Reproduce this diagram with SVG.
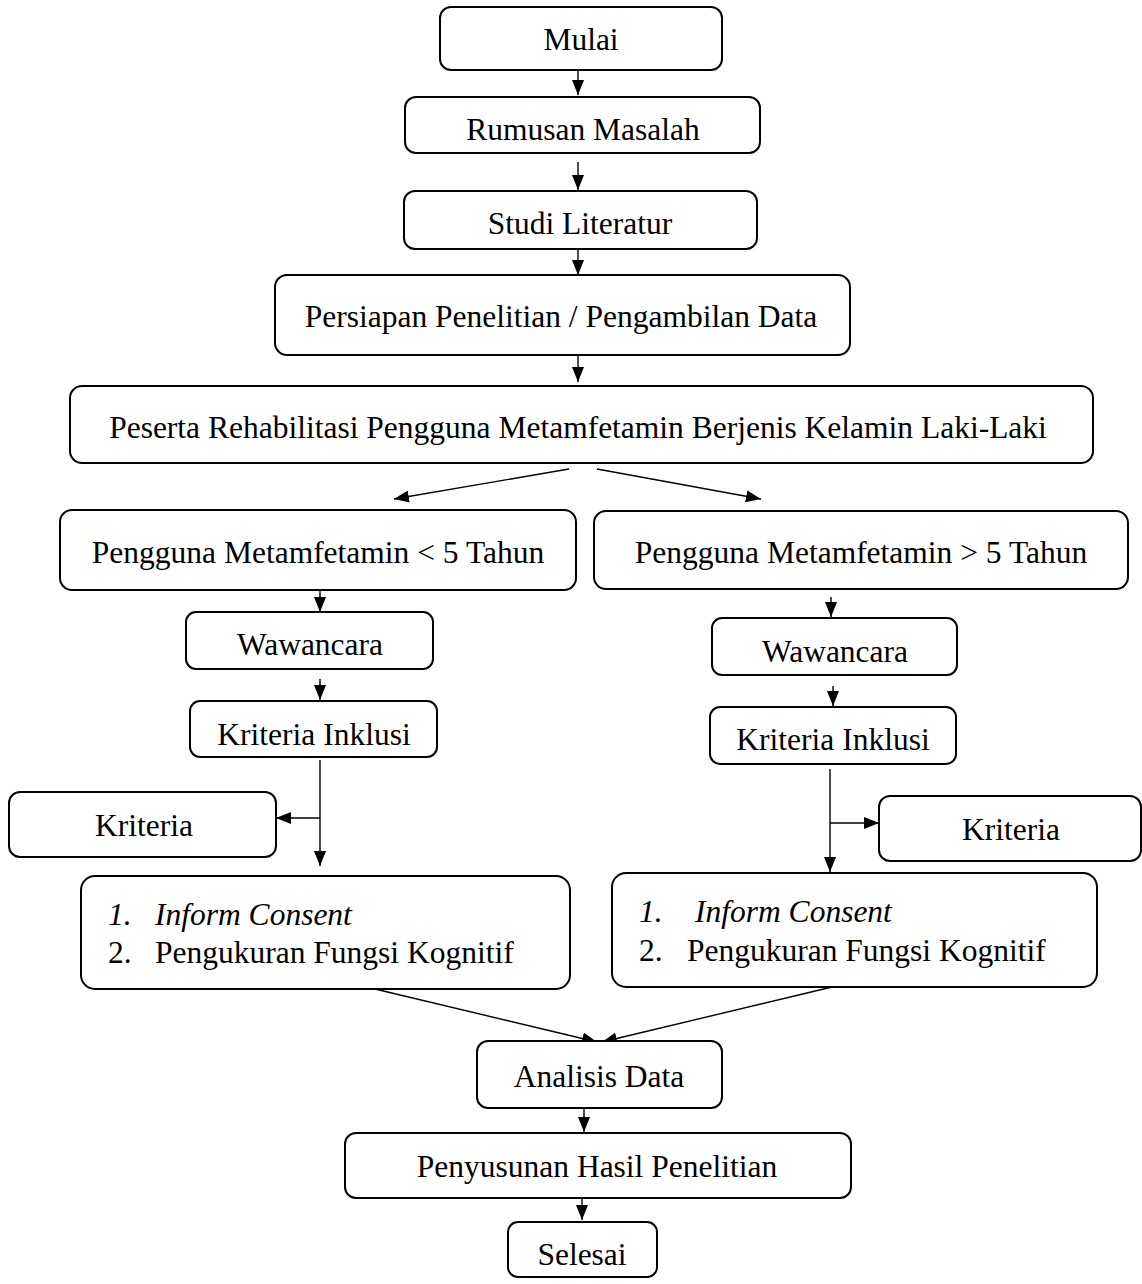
<svg xmlns="http://www.w3.org/2000/svg" width="1142" height="1284" viewBox="0 0 1142 1284">
<style>
.box{fill:#fff;stroke:#000;stroke-width:2}
.t{font-family:"Liberation Serif","Times New Roman",serif;font-size:31.5px;fill:#000;text-anchor:middle}
.l{font-family:"Liberation Serif","Times New Roman",serif;font-size:31.5px;fill:#000}
.i{font-style:italic}
.c{fill:none;stroke:#000;stroke-width:1.4}
</style>
<defs>
<marker id="ah" viewBox="0 0 15 12" markerWidth="15" markerHeight="12" refX="15" refY="6" orient="auto" markerUnits="userSpaceOnUse">
<path d="M0,0 L15,6 L0,12 z" fill="#000"/>
</marker>
</defs>
<rect width="1142" height="1284" fill="#fff"/>
<g id="connectors">
<line class="c" x1="578" y1="70" x2="578" y2="95" marker-end="url(#ah)"/>
<line class="c" x1="578" y1="162" x2="578" y2="190" marker-end="url(#ah)"/>
<line class="c" x1="578" y1="250" x2="578" y2="275" marker-end="url(#ah)"/>
<line class="c" x1="578" y1="356" x2="578" y2="382" marker-end="url(#ah)"/>
<line class="c" x1="569" y1="469" x2="394" y2="499" marker-end="url(#ah)"/>
<line class="c" x1="597" y1="469" x2="761" y2="499" marker-end="url(#ah)"/>
<line class="c" x1="320" y1="590" x2="320" y2="612" marker-end="url(#ah)"/>
<line class="c" x1="320" y1="679" x2="320" y2="700" marker-end="url(#ah)"/>
<line class="c" x1="320" y1="760" x2="320" y2="866" marker-end="url(#ah)"/>
<line class="c" x1="320" y1="818" x2="276" y2="818" marker-end="url(#ah)"/>
<line class="c" x1="831" y1="597" x2="831" y2="617" marker-end="url(#ah)"/>
<line class="c" x1="833" y1="686" x2="833" y2="706" marker-end="url(#ah)"/>
<line class="c" x1="830" y1="769" x2="830" y2="872" marker-end="url(#ah)"/>
<line class="c" x1="830" y1="823" x2="879" y2="823" marker-end="url(#ah)"/>
<line class="c" x1="375" y1="989" x2="597" y2="1042" marker-end="url(#ah)"/>
<line class="c" x1="832" y1="987" x2="602" y2="1042" marker-end="url(#ah)"/>
<line class="c" x1="584" y1="1104" x2="584" y2="1132" marker-end="url(#ah)"/>
<line class="c" x1="582" y1="1198" x2="582" y2="1220" marker-end="url(#ah)"/>
</g>
<g id="mulai"><rect class="box" x="440" y="7" width="282" height="63" rx="11"/><text class="t" x="581" y="50">Mulai</text></g>
<g id="rumusan"><rect class="box" x="405" y="97" width="355" height="56" rx="11"/><text class="t" x="583" y="140">Rumusan Masalah</text></g>
<g id="studi"><rect class="box" x="404" y="191" width="353" height="58" rx="11"/><text class="t" x="580" y="234">Studi Literatur</text></g>
<g id="persiapan"><rect class="box" x="275" y="275" width="575" height="80" rx="12"/><text class="t" x="561" y="327">Persiapan Penelitian / Pengambilan Data</text></g>
<g id="peserta"><rect class="box" x="70" y="386" width="1023" height="77" rx="12"/><text class="t" x="578" y="438">Peserta Rehabilitasi Pengguna Metamfetamin Berjenis Kelamin Laki-Laki</text></g>
<g id="pengguna-kurang"><rect class="box" x="60" y="510" width="516" height="80" rx="12"/><text class="t" x="318" y="563">Pengguna Metamfetamin &lt; 5 Tahun</text></g>
<g id="pengguna-lebih"><rect class="box" x="594" y="511" width="534" height="78" rx="12"/><text class="t" x="861" y="563">Pengguna Metamfetamin &gt; 5 Tahun</text></g>
<g id="wawancara-kiri"><rect class="box" x="186" y="612" width="247" height="57" rx="10"/><text class="t" x="310" y="655">Wawancara</text></g>
<g id="wawancara-kanan"><rect class="box" x="712" y="618" width="245" height="57" rx="10"/><text class="t" x="835" y="662">Wawancara</text></g>
<g id="inklusi-kiri"><rect class="box" x="190" y="701" width="247" height="56" rx="10"/><text class="t" x="314" y="745">Kriteria Inklusi</text></g>
<g id="inklusi-kanan"><rect class="box" x="710" y="707" width="246" height="57" rx="10"/><text class="t" x="833" y="750">Kriteria Inklusi</text></g>
<g id="kriteria-kiri"><rect class="box" x="9" y="792" width="267" height="65" rx="11"/><text class="t" x="144" y="836">Kriteria</text></g>
<g id="kriteria-kanan"><rect class="box" x="879" y="796" width="262" height="65" rx="11"/><text class="t" x="1011" y="840">Kriteria</text></g>
<g id="informasi-kiri"><rect class="box" x="81" y="876" width="489" height="113" rx="14"/>
<text class="l i" x="108" y="925">1.</text><text class="l i" x="155" y="925">Inform Consent</text>
<text class="l" x="108" y="963">2.</text><text class="l" x="155" y="963">Pengukuran Fungsi Kognitif</text></g>
<g id="informasi-kanan"><rect class="box" x="612" y="873" width="485" height="114" rx="14"/>
<text class="l i" x="639" y="922">1.</text><text class="l i" x="695" y="922">Inform Consent</text>
<text class="l" x="639" y="961">2.</text><text class="l" x="687" y="961">Pengukuran Fungsi Kognitif</text></g>
<g id="analisis"><rect class="box" x="477" y="1041" width="245" height="67" rx="11"/><text class="t" x="599" y="1087">Analisis Data</text></g>
<g id="penyusunan"><rect class="box" x="345" y="1133" width="506" height="65" rx="11"/><text class="t" x="597" y="1177">Penyusunan Hasil Penelitian</text></g>
<g id="selesai"><rect class="box" x="508" y="1222" width="149" height="55" rx="10"/><text class="t" x="582" y="1265">Selesai</text></g>
</svg>
